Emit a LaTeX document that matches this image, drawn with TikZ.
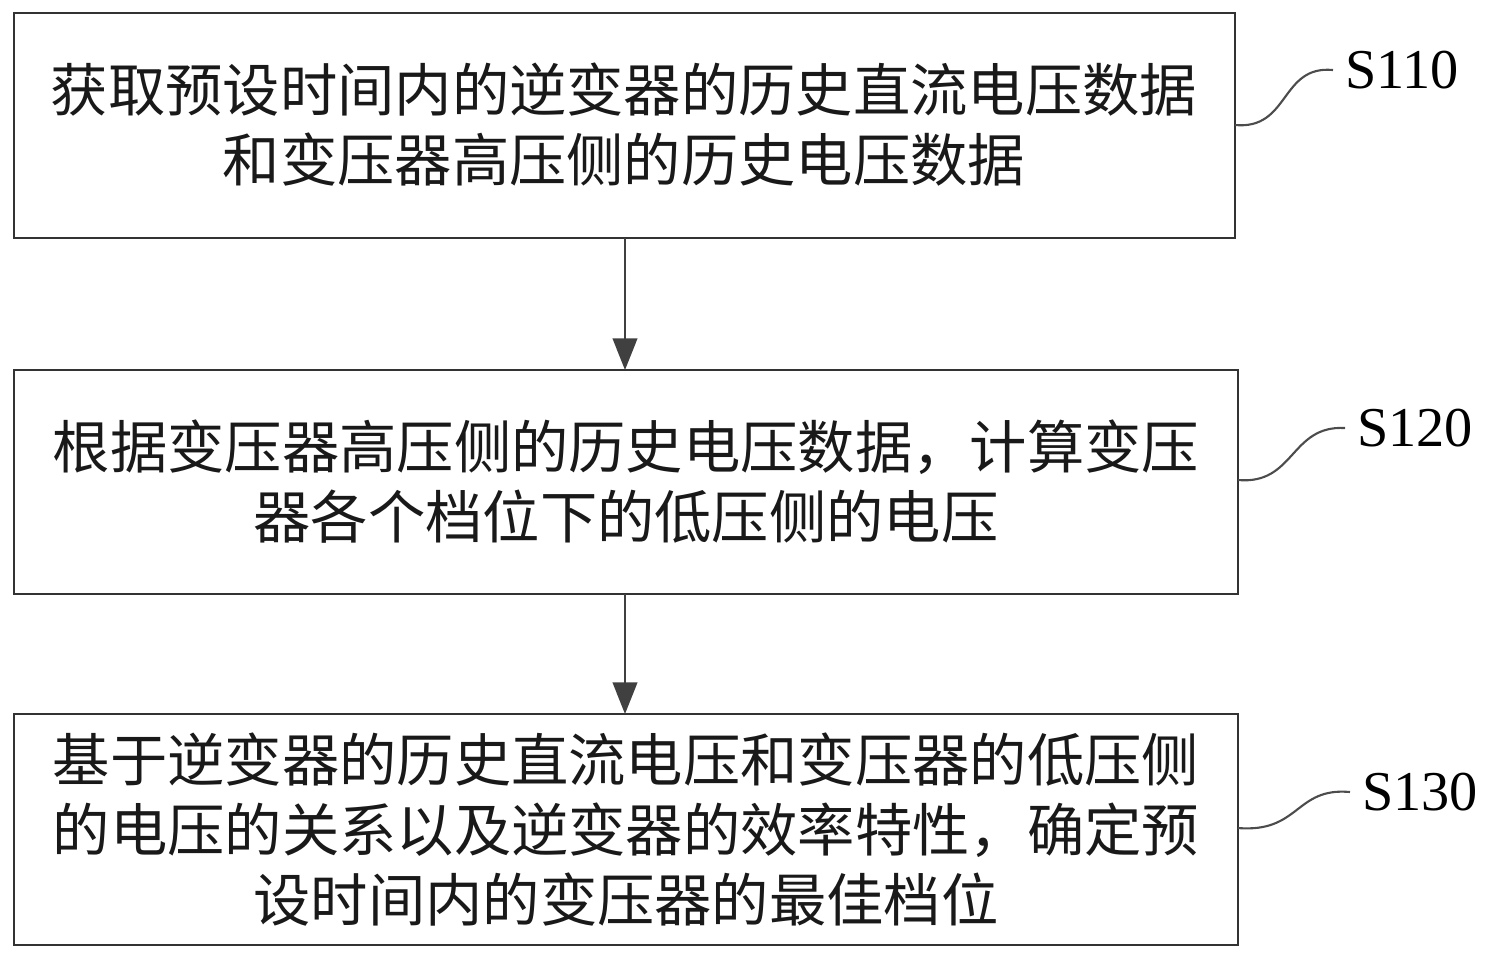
\documentclass[tikz,border=0pt]{standalone}
\usepackage{fontspec}
\setmainfont{Liberation Serif}
\newfontfamily\cjk{Noto Sans CJK SC}
\usetikzlibrary{arrows.meta}
\begin{document}
\begin{tikzpicture}[x=0.01cm,y=-0.01cm,
  box/.style={draw=black!80,line width=0.6pt},
  txt/.style={font=\cjk\fontsize{16.3pt}{19.9pt}\selectfont,align=center,text=black!90},
  lbl/.style={font=\fontsize{16pt}{18pt}\selectfont,anchor=west},
  arr/.style={-{Triangle[length=9pt,width=7pt]},draw=black!75,line width=0.6pt,fill=black!75}]
\useasboundingbox (0,0) rectangle (1487,959);
\draw[box] (14,13) rectangle (1235,238);
\draw[box] (14,370) rectangle (1238,594);
\draw[box] (14,714) rectangle (1238,945);
\node[txt] (t1) at (624,125) {获取预设时间内的逆变器的历史直流电压数据\\和变压器高压侧的历史电压数据};
\node[txt] (t2) at (626,482) {根据变压器高压侧的历史电压数据，计算变压\\器各个档位下的低压侧的电压};
\node[txt] (t3) at (626,830) {基于逆变器的历史直流电压和变压器的低压侧\\的电压的关系以及逆变器的效率特性，确定预\\设时间内的变压器的最佳档位};
\coordinate (a1) at (625,238); \coordinate (b1) at (625,370);
\coordinate (a2) at (625,594); \coordinate (b2) at (625,714);
\draw[arr] (a1) -- (b1);
\draw[arr] (a2) -- (b2);
\node[lbl] (s1) at (1333,70) {S110};
\node[lbl] (s2) at (1345,428) {S120};
\node[lbl] (s3) at (1350,792) {S130};
\coordinate (e1) at (1235,125); \coordinate (e2) at (1238,480); \coordinate (e3) at (1238,828);
\draw[black!70,line width=0.6pt] (e1) .. controls (1290,130) and (1280,65) .. (s1.west);
\draw[black!70,line width=0.6pt] (e2) .. controls (1295,485) and (1290,425) .. (s2.west);
\draw[black!70,line width=0.6pt] (e3) .. controls (1300,833) and (1295,787) .. (s3.west);
\end{tikzpicture}
\end{document}
